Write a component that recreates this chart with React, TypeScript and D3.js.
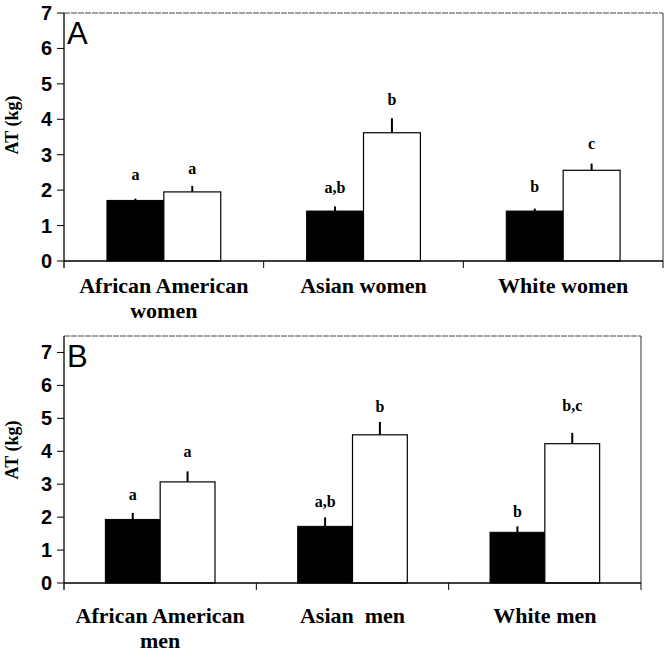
import React from "react";
import * as d3 from "d3";

const groupsA = [["African American", "women"], ["Asian women"], ["White women"]];
const groupsB = [["African American", "men"], ["Asian  men"], ["White men"]];

const blackA = [1.71, 1.41, 1.41];
const blackErrA = [0.05, 0.13, 0.07];
const whiteA = [1.95, 3.62, 2.56];
const whiteErrA = [0.17, 0.41, 0.19];
const blackLettersA = ["a", "a,b", "b"];
const whiteLettersA = ["a", "b", "c"];
const blackLetterPosA = [2.43, 2.07, 2.1];
const whiteLetterPosA = [2.6, 4.55, 3.3];

const blackB = [1.93, 1.72, 1.54];
const blackErrB = [0.2, 0.27, 0.18];
const whiteB = [3.07, 4.5, 4.23];
const whiteErrB = [0.32, 0.39, 0.33];
const blackLettersB = ["a", "a,b", "b"];
const whiteLettersB = ["a", "b", "b,c"];
const blackLetterPosB = [2.66, 2.45, 2.15];
const whiteLetterPosB = [3.97, 5.33, 5.37];

const yTicks = [0, 1, 2, 3, 4, 5, 6, 7];

const SERIF = "Liberation Serif, DejaVu Serif, serif";
const SANS = "Liberation Sans, Arial, sans-serif";

type PanelProps = {
  tag: string;
  groups: string[][];
  black: number[];
  blackErr: number[];
  white: number[];
  whiteErr: number[];
  blackLetters: string[];
  whiteLetters: string[];
  blackLetterPos: number[];
  whiteLetterPos: number[];
  left: number;
  right: number;
  top: number;
  bottom: number;
  yMax: number;
  labelBase: number;
  lineGap: number;
  yLabelY: number;
};

const serifBold = (size: number) => ({ fontFamily: SERIF, fontWeight: 700, fontSize: size + "px" } as React.CSSProperties);

function Panel(p: PanelProps) {
  const y = d3.scaleLinear().domain([0, p.yMax]).range([p.bottom, p.top]);
  const x = d3
    .scaleBand<number>()
    .domain(p.groups.map((_, i) => i))
    .range([p.left, p.right])
    .padding(0);
  const bw = x.bandwidth() * 0.285;
  const boundaries = p.groups.map((_, i) => (x(i) as number) + x.bandwidth());
  return (
    <g>
      <line x1={p.left} x2={p.right} y1={p.top} y2={p.top} stroke="#444" strokeWidth={1} strokeDasharray="6,1" />
      <line x1={p.right} x2={p.right} y1={p.top} y2={p.bottom} stroke="#333" strokeWidth={1} />
      {p.groups.map((_, i) => {
        const c = (x(i) as number) + x.bandwidth() / 2;
        return (
          <g key={i}>
            <line x1={c - bw / 2} x2={c - bw / 2} y1={y(p.black[i])} y2={y(p.black[i] + p.blackErr[i])} stroke="#000" strokeWidth={2} />
            <line x1={c + bw / 2} x2={c + bw / 2} y1={y(p.white[i])} y2={y(p.white[i] + p.whiteErr[i])} stroke="#000" strokeWidth={2} />
            <rect x={c - bw} y={y(p.black[i])} width={bw} height={p.bottom - y(p.black[i])} fill="#000" stroke="#000" strokeWidth={1} />
            <rect x={c} y={y(p.white[i])} width={bw} height={p.bottom - y(p.white[i])} fill="#fff" stroke="#000" strokeWidth={1.2} />
            <text x={c - bw / 2} y={y(p.blackLetterPos[i]) + 5} textAnchor="middle" style={serifBold(16)}>
              {p.blackLetters[i]}
            </text>
            <text x={c + bw / 2} y={y(p.whiteLetterPos[i]) + 5} textAnchor="middle" style={serifBold(16)}>
              {p.whiteLetters[i]}
            </text>
            {p.groups[i].map((line, j) => (
              <text key={j} x={c} y={p.labelBase + j * p.lineGap} textAnchor="middle" style={{ ...serifBold(22), whiteSpace: "pre" }}>
                {line}
              </text>
            ))}
          </g>
        );
      })}
      <line x1={p.left} x2={p.left} y1={p.top} y2={p.bottom + 7} stroke="#000" strokeWidth={1.3} />
      <line x1={p.left} x2={p.right} y1={p.bottom} y2={p.bottom} stroke="#000" strokeWidth={1.5} />
      {boundaries.map((b, i) => (
        <line key={i} x1={b} x2={b} y1={p.bottom} y2={p.bottom + 7} stroke="#000" strokeWidth={1} />
      ))}
      {yTicks.map((t) => (
        <g key={t}>
          <line x1={p.left - 7} x2={p.left} y1={y(t)} y2={y(t)} stroke="#000" strokeWidth={1} />
          <text x={p.left - 12} y={y(t) + 7} textAnchor="end" style={{ fontFamily: SANS, fontWeight: 700, fontSize: "20px" }}>
            {t}
          </text>
        </g>
      ))}
      <text transform={`translate(18,${p.yLabelY}) rotate(-90)`} textAnchor="middle" style={serifBold(18)}>
        AT (kg)
      </text>
      <text x={p.left + 3} y={p.top + 31} style={{ fontFamily: SANS, fontSize: "31px" }}>
        {p.tag}
      </text>
    </g>
  );
}

export default function App() {
  return (
    <div style={{ position: "absolute", left: 0, top: 0 }}>
      <svg width={666} height={653} style={{ display: "block", background: "#fff" }}>
        <rect width={666} height={653} fill="#fff" />
        <Panel
          tag="A"
          groups={groupsA}
          black={blackA}
          blackErr={blackErrA}
          white={whiteA}
          whiteErr={whiteErrA}
          blackLetters={blackLettersA}
          whiteLetters={whiteLettersA}
          blackLetterPos={blackLetterPosA}
          whiteLetterPos={whiteLetterPosA}
          left={64}
          right={663}
          top={13}
          bottom={261}
          yMax={7}
          labelBase={293}
          lineGap={25}
          yLabelY={125}
        />
        <Panel
          tag="B"
          groups={groupsB}
          black={blackB}
          blackErr={blackErrB}
          white={whiteB}
          whiteErr={whiteErrB}
          blackLetters={blackLettersB}
          whiteLetters={whiteLettersB}
          blackLetterPos={blackLetterPosB}
          whiteLetterPos={whiteLetterPosB}
          left={64}
          right={641}
          top={336}
          bottom={583}
          yMax={7.5}
          labelBase={623}
          lineGap={25}
          yLabelY={450}
        />
      </svg>
    </div>
  );
}
